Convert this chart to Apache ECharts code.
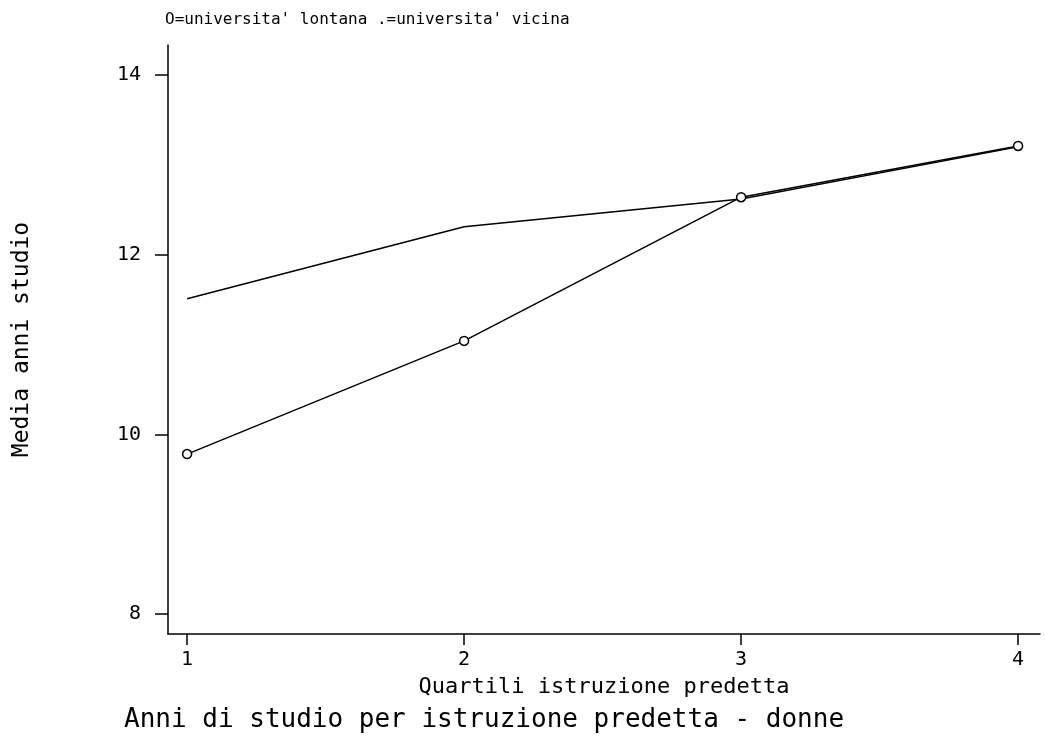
<!DOCTYPE html>
<html><head><meta charset="utf-8">
<script src="https://cdn.jsdelivr.net/npm/echarts@6/dist/echarts.min.js"></script>
<style>html,body{margin:0;padding:0;background:#fff}#c{width:1045px;height:742px}</style>
</head><body><div id="c"></div>
<script>
const quartili = [1, 2, 3, 4];
const lontana = [9.78, 11.04, 12.64, 13.21];
const vicina = [11.51, 12.31, 12.62, 13.2];
const yTicks = [8, 10, 12, 14];
const xTicks = [1, 2, 3, 4];
const FONT = 'DejaVu Sans Mono';
const chart = echarts.init(document.getElementById('c'));
chart.setOption({
  animation: false,
  backgroundColor: '#fff',
  textStyle: { fontFamily: FONT, color: '#000' },
  title: [
    { text: "O=universita' lontana .=universita' vicina", left: 160, top: 7,
      textStyle: { fontFamily: FONT, fontSize: 16, fontWeight: 'normal', color: '#000' } },
    { text: 'Anni di studio per istruzione predetta - donne', left: 119, top: 702,
      textStyle: { fontFamily: FONT, fontSize: 26, fontWeight: 'normal', color: '#000' } }
  ],
  grid: { left: 168, top: 45, right: 5, bottom: 108, containLabel: false },
  xAxis: {
    type: 'value', min: 0.931, max: 4.079,
    name: 'Quartili istruzione predetta', nameLocation: 'middle', nameGap: 42,
    nameTextStyle: { fontFamily: FONT, fontSize: 22, color: '#000' },
    splitLine: { show: false },
    axisLine: { lineStyle: { color: '#000', width: 1.5 } },
    axisTick: { show: true, length: 11, lineStyle: { color: '#000', width: 1.5 }, customValues: xTicks },
    axisLabel: { fontFamily: FONT, fontSize: 20, color: '#000', margin: 16, customValues: xTicks }
  },
  yAxis: {
    type: 'value', min: 7.777, max: 14.334,
    name: 'Media anni studio', nameLocation: 'middle', nameGap: 134, nameRotate: 90,
    nameTextStyle: { fontFamily: FONT, fontSize: 23, color: '#000' },
    splitLine: { show: false },
    axisLine: { show: true, lineStyle: { color: '#000', width: 1.5 } },
    axisTick: { show: true, length: 13, lineStyle: { color: '#000', width: 1.5 }, customValues: yTicks },
    axisLabel: { fontFamily: FONT, fontSize: 20, color: '#000', margin: 27, customValues: yTicks }
  },
  series: [
    { name: 'lontana', type: 'line', data: quartili.map((q, i) => [q, lontana[i]]),
      symbol: 'circle', symbolSize: 9, showSymbol: true,
      lineStyle: { color: '#000', width: 1.5 },
      itemStyle: { color: '#fff', borderColor: '#000', borderWidth: 1.5 } },
    { name: 'vicina', type: 'line', data: quartili.map((q, i) => [q, vicina[i]]),
      symbol: 'none', lineStyle: { color: '#000', width: 1.5 } }
  ]
});
</script></body></html>
